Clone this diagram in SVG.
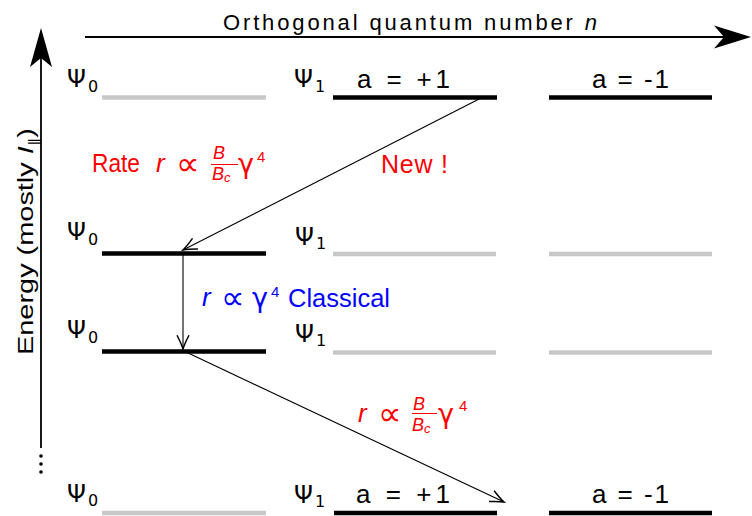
<svg xmlns="http://www.w3.org/2000/svg" width="752" height="516" viewBox="0 0 752 516">
<style>
text{font-family:"Liberation Sans","DejaVu Sans",sans-serif;fill:#000}
.psi{font-family:"DejaVu Sans",sans-serif;font-size:24px}
.sub{font-family:"DejaVu Sans",sans-serif;font-size:16px}
.lvl{font-size:26px}
.blk{stroke:#000;stroke-width:4.5}
.gry{stroke:#c8c8c8;stroke-width:4.5}
.red text,.red tspan{fill:#ff0000}
.blue text{fill:#0000ff}
.it{font-style:italic}
.lab{font-size:26px}
.frac{font-style:italic;font-size:18px}
.prop{font-family:"DejaVu Sans",sans-serif;font-size:33px}
.gam{font-family:"DejaVu Sans",sans-serif;font-size:27px}
.tr{stroke:#000;stroke-width:1.1;fill:none}
</style>
<defs>
<marker id="ah" markerUnits="userSpaceOnUse" markerWidth="20" markerHeight="20" viewBox="-14 -8 16 16" refX="0" refY="0" orient="auto">
<path d="M-11,-4.8 Q-4,-1.2 0,0 Q-4,1.2 -11,4.8" fill="none" stroke="#000" stroke-width="1.2"/>
</marker>
</defs>

<g id="axes">
<line x1="85" y1="37" x2="726" y2="37" stroke="#000" stroke-width="1.8"/>
<path d="M751,37 L714,25.5 L724,37 L714,48.5 Z" fill="#000"/>
<line x1="41" y1="448" x2="41" y2="58" stroke="#000" stroke-width="1.8"/>
<path d="M41,28 L30,67 L41,58 L52,67 Z" fill="#000"/>
<circle cx="41" cy="456" r="1.8" fill="#000"/>
<circle cx="41" cy="464" r="1.8" fill="#000"/>
<circle cx="41" cy="472" r="1.8" fill="#000"/>
<text x="223" y="30" font-size="22" textLength="374" lengthAdjust="spacing">Orthogonal quantum number <tspan class="it">n</tspan></text>
<text transform="translate(33,355) rotate(-90)" font-size="22" textLength="227" lengthAdjust="spacingAndGlyphs">Energy (mostly <tspan class="it">I</tspan><tspan font-size="13" dy="5">∥</tspan><tspan dy="-5">)</tspan></text>
</g>

<g id="row1">
<line class="gry" x1="102" y1="97.5" x2="266" y2="97.5"/>
<line class="blk" x1="333" y1="97.5" x2="497" y2="97.5"/>
<line class="blk" x1="549" y1="97.5" x2="712" y2="97.5"/>
<text class="psi" x="67" y="87">Ψ</text><text class="sub" x="88" y="92">0</text>
<text class="psi" x="294" y="87">Ψ</text><text class="sub" x="315" y="92">1</text>
<text class="lvl" x="357" y="88" textLength="93" lengthAdjust="spacing">a = +1</text>
<text class="lvl" x="592" y="88" textLength="77" lengthAdjust="spacing">a = -1</text>
</g>

<g id="row2">
<line class="blk" x1="102" y1="253.5" x2="266" y2="253.5"/>
<line class="gry" x1="333" y1="254" x2="496" y2="254"/>
<line class="gry" x1="549" y1="254" x2="712" y2="254"/>
<text class="psi" x="67" y="240">Ψ</text><text class="sub" x="88" y="245">0</text>
<text class="psi" x="295" y="245">Ψ</text><text class="sub" x="316" y="249">1</text>
</g>

<g id="row3">
<line class="blk" x1="102" y1="351.5" x2="266" y2="351.5"/>
<line class="gry" x1="333" y1="352.5" x2="496" y2="352.5"/>
<line class="gry" x1="549" y1="352.5" x2="712" y2="352.5"/>
<text class="psi" x="67" y="338">Ψ</text><text class="sub" x="88" y="343">0</text>
<text class="psi" x="295" y="342">Ψ</text><text class="sub" x="316" y="346">1</text>
</g>

<g id="row4">
<line class="gry" x1="102" y1="513" x2="266" y2="513"/>
<line class="blk" x1="334" y1="513" x2="497" y2="513"/>
<line class="blk" x1="549" y1="513" x2="712" y2="513"/>
<text class="psi" x="67" y="502">Ψ</text><text class="sub" x="88" y="506">0</text>
<text class="psi" x="294" y="503">Ψ</text><text class="sub" x="315" y="507">1</text>
<text class="lvl" x="356" y="503" textLength="94" lengthAdjust="spacing">a = +1</text>
<text class="lvl" x="592" y="503" textLength="77" lengthAdjust="spacing">a = -1</text>
</g>

<g id="connectors">
<line class="tr" x1="483" y1="97" x2="183" y2="250" marker-end="url(#ah)"/>
<line class="tr" x1="183" y1="254" x2="183" y2="349" marker-end="url(#ah)"/>
<line class="tr" x1="186" y1="352" x2="504" y2="502" marker-end="url(#ah)"/>
</g>

<g id="label-rate" class="red">
<text class="lab" x="92" y="172" textLength="48" lengthAdjust="spacingAndGlyphs">Rate</text>
<text class="it lab" x="156" y="172">r</text>
<text class="prop" x="176" y="175">∝</text>
<text class="frac" x="213" y="159">B</text>
<line x1="211" y1="164.5" x2="238" y2="164.5" stroke="#ff0000" stroke-width="1"/>
<text class="frac" x="212" y="180">B<tspan font-size="13" dy="2">c</tspan></text>
<text class="gam" x="238" y="173">γ</text>
<text x="257" y="162" font-size="15">4</text>
</g>

<g id="label-new" class="red">
<text x="381" y="173" font-size="25" textLength="67" lengthAdjust="spacing">New !</text>
</g>

<g id="label-classical" class="blue">
<text class="it lab" x="202" y="306">r</text>
<text class="prop" x="221" y="309">∝</text>
<text class="gam" x="252" y="307">γ</text>
<text x="271" y="297" font-size="15">4</text>
<text class="lab" x="288" y="307" textLength="102" lengthAdjust="spacingAndGlyphs">Classical</text>
</g>

<g id="label-rate2" class="red">
<text class="it lab" x="358" y="422">r</text>
<text class="prop" x="378" y="425">∝</text>
<text class="frac" x="413" y="410">B</text>
<line x1="412" y1="413.5" x2="437" y2="413.5" stroke="#ff0000" stroke-width="1"/>
<text class="frac" x="412" y="431">B<tspan font-size="13" dy="2">c</tspan></text>
<text class="gam" x="438" y="423">γ</text>
<text x="459" y="411" font-size="15">4</text>
</g>
</svg>
